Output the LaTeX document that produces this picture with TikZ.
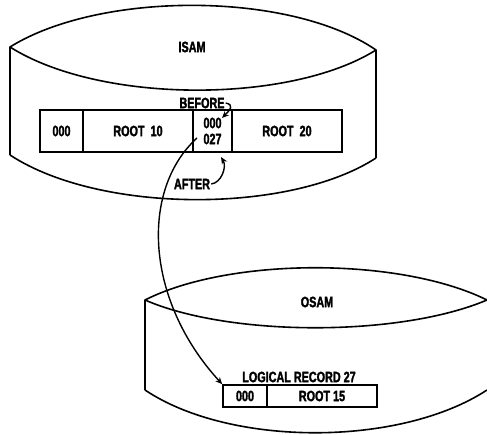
\documentclass[tikz,border=0pt]{standalone}
\usepackage{fontspec}
\newfontfamily\lblfont[FakeStretch=0.72,FakeBold=1.8]{Liberation Sans Bold}
\usetikzlibrary{arrows.meta}
\tikzset{
  outline/.style={line width=1.6pt, line join=round},
  cell/.style={draw, line width=1.5pt, inner sep=0pt, font=\lblfont\fontsize{15}{15}\selectfont},
  lbl/.style={inner sep=0pt, font=\lblfont\fontsize{15}{15}\selectfont},
  link/.style={line width=1.4pt, -{Stealth[length=7pt,width=6pt]}}
}
\begin{document}
\begin{tikzpicture}[x=1pt,y=-1pt]
\useasboundingbox (0,0) rectangle (487,435);
% ISAM cylinder
\draw[outline] (10,155) -- (10,47) .. controls (100,-9) and (290,-9) .. (376,50) -- (376,158);
\draw[outline] (10,47) .. controls (100,104) and (290,104) .. (376,50);
\draw[outline] (10,155) .. controls (100,214) and (290,214) .. (376,158);
\draw[line width=2.4pt] (376,50) -- (376,158);
\node[lbl] (isam) at (192,47) {ISAM};
% ISAM record
\node[cell, minimum width=43pt, minimum height=42pt] (c1) at (61.5,131) {000};
\node[cell, minimum width=110pt, minimum height=42pt] (c2) at (138,131) {ROOT\hspace{6pt}10};
\node[cell, minimum width=39pt, minimum height=42pt, align=center] (c3) at (212.5,131) {000\\[1pt]027};
\node[cell, minimum width=110pt, minimum height=42pt] (c4) at (287,131) {ROOT\hspace{6pt}20};
\node[lbl] (before) at (202,103) {BEFORE};
\node[lbl] (after) at (192,184) {AFTER};
\coordinate (bhead) at (222,118);
\coordinate (ahead) at (221,157);
\draw[link] ([xshift=1pt]before.east) .. controls +(9,2) and +(8,-8) .. (bhead);
\draw[link] ([xshift=1pt]after.east) .. controls +(10,-1) and +(6,10) .. (ahead);
% OSAM cylinder
\draw[outline] (145,390) -- (145,300) .. controls (230,257) and (400,257) .. (487,300);
\draw[outline] (145,300) .. controls (230,337) and (400,337) .. (487,300);
\draw[outline] (145,390) .. controls (230,447) and (400,447) .. (487,390);
\node[lbl] (osam) at (317,302) {OSAM};
\node[lbl] (logrec) at (299,377) {LOGICAL RECORD 27};
\node[cell, minimum width=44pt, minimum height=22pt] (d1) at (245,396) {000};
\node[cell, minimum width=110pt, minimum height=22pt] (d2) at (322,396) {ROOT 15};
\coordinate (src) at (197,138);
\draw[link] (src) .. controls (140,190) and (145,300) .. (d1.north west);
\end{tikzpicture}
\end{document}
